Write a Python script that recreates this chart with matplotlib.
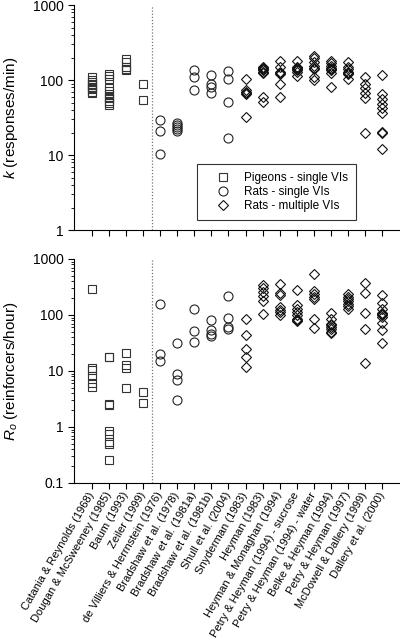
import matplotlib
matplotlib.use("Agg")
import matplotlib.pyplot as plt
from matplotlib.ticker import FuncFormatter, LogLocator, NullFormatter

plt.rcParams['font.family'] = ['Liberation Sans', 'DejaVu Sans']
plt.rcParams['mathtext.fontset'] = 'custom'
plt.rcParams['mathtext.rm'] = 'Liberation Sans'
plt.rcParams['mathtext.it'] = 'Liberation Sans:italic'

studies = ["Catania & Reynolds (1968)", "Dougan & McSweeney (1985)", "Baum (1993)",
           "Zeiler (1999)", "de Villiers & Herrnstein (1976)", "Bradshaw et al. (1978)",
           "Bradshaw et al. (1981a)", "Bradshaw et al. (1981b)", "Shull et al. (2004)",
           "Snyderman (1983)", "Heyman (1983)", "Heyman & Monaghan (1994)",
           "Petry & Heyman (1994) - sucrose", "Petry & Heyman (1994) - water",
           "Belke & Heyman (1994)", "Petry & Heyman (1997)", "McDowell & Dallery (1999)",
           "Dallery et al. (2000)"]
groups = ["pigeon"] * 4 + ["rat_single"] * 5 + ["rat_multi"] * 9

k_values = [
    [110, 100, 95, 90, 85, 80, 78, 75, 70, 68],
    [120, 115, 105, 78, 72, 65, 60, 57, 53, 50, 47],
    [190, 175, 150, 140, 135],
    [90, 55],
    [29, 21, 10.3],
    [27, 25, 24, 22, 21],
    [135, 110, 73],
    [118, 88, 82, 67],
    [133, 103, 51, 17],
    [105, 73, 70, 68, 65, 32],
    [150, 145, 140, 135, 130, 125, 60, 51],
    [180, 150, 130, 125, 120, 90, 60],
    [180, 150, 145, 140, 135, 130, 115],
    [210, 195, 175, 155, 145, 140, 110, 100],
    [180, 170, 155, 145, 140, 135, 125, 82],
    [175, 150, 140, 130, 125, 120, 105],
    [110, 90, 78, 68, 58, 19.5],
    [116, 65, 56, 48, 42, 37, 20.5, 19.7, 12.2],
]

ro_values = [
    [290, 11.5, 10.5, 8, 6, 5.2],
    [18, 17.5, 2.6, 2.5, 0.85, 0.75, 0.55, 0.5, 0.26],
    [21, 13, 11.5, 4.9],
    [4.2, 2.7],
    [160, 20, 15],
    [31, 9, 7, 3],
    [130, 52, 33],
    [82, 54, 46, 42],
    [220, 88, 60, 56],
    [85, 44, 25, 18, 12],
    [340, 300, 260, 220, 180, 105],
    [350, 250, 230, 140, 125, 115, 100],
    [280, 150, 130, 115, 100, 85, 80, 78],
    [550, 270, 240, 210, 190, 85, 58],
    [110, 85, 70, 65, 60, 56, 50, 47],
    [240, 210, 190, 175, 160, 145, 130],
    [370, 250, 110, 56, 14],
    [225, 165, 128, 110, 105, 100, 92, 72, 55, 31],
]

styles = {
    "pigeon": dict(marker="s", ms=5.5, mec="#333333", label="Pigeons - single VIs"),
    "rat_single": dict(marker="o", ms=6.5, mec="#222222", label="Rats - single VIs"),
    "rat_multi": dict(marker="D", ms=5.5, mec="#111111", label="Rats - multiple VIs"),
}

fig = plt.figure(figsize=(4.0, 6.41), dpi=100)
ax1 = fig.add_axes([0.185, 0.641, 0.815, 0.351])
ax2 = fig.add_axes([0.185, 0.2465, 0.815, 0.3495])

def draw(ax, values):
    seen = set()
    for i, vals in enumerate(values):
        st = dict(styles[groups[i]])
        lab = st.pop("label")
        if groups[i] in seen:
            lab = None
        seen.add(groups[i])
        ax.plot([i] * len(vals), vals, ls="none", mfc="none", mew=0.8, label=lab, **st)
    ax.set_yscale("log")
    ax.set_xlim(-1.05, 18.05)
    ax.axvline(3.5, color="#777777", ls=(0, (1, 1.5)), lw=0.9)
    ax.spines["top"].set_visible(False)
    ax.spines["right"].set_visible(False)
    ax.set_xticks(range(len(studies)))
    ax.yaxis.set_major_formatter(FuncFormatter(lambda v, p: "%g" % v))
    ax.yaxis.set_minor_locator(LogLocator(base=10, subs=range(2, 10)))
    ax.yaxis.set_minor_formatter(NullFormatter())
    ax.tick_params(axis="both", which="major", length=4, width=0.8, labelsize=10)
    ax.tick_params(axis="y", which="minor", length=2, width=0.6)

draw(ax1, k_values)
ax1.set_ylim(1, 1000)
ax1.set_xticklabels([])
ax1.set_ylabel(r"$k$ (responses/min)", fontsize=11)
ax1.yaxis.set_label_coords(-0.165, 0.5)
leg = ax1.legend(loc="lower left", bbox_to_anchor=(0.377, 0.044), borderaxespad=0,
                 fontsize=8.5, fancybox=False, edgecolor="black", handlelength=3.0,
                 handletextpad=0.28, borderpad=0.7, labelspacing=0.15)
leg.get_frame().set_linewidth(0.8)

draw(ax2, ro_values)
ax2.set_ylim(0.1, 1000)
ax2.set_xticklabels(studies, rotation=60, ha="right", va="center",
                    rotation_mode="anchor", fontsize=8.0)
ax2.tick_params(axis="x", pad=3)
ax2.set_ylabel(r"$R_o$ (reinforcers/hour)", fontsize=11)
ax2.yaxis.set_label_coords(-0.165, 0.5)

fig.savefig("out.png", dpi=100)
